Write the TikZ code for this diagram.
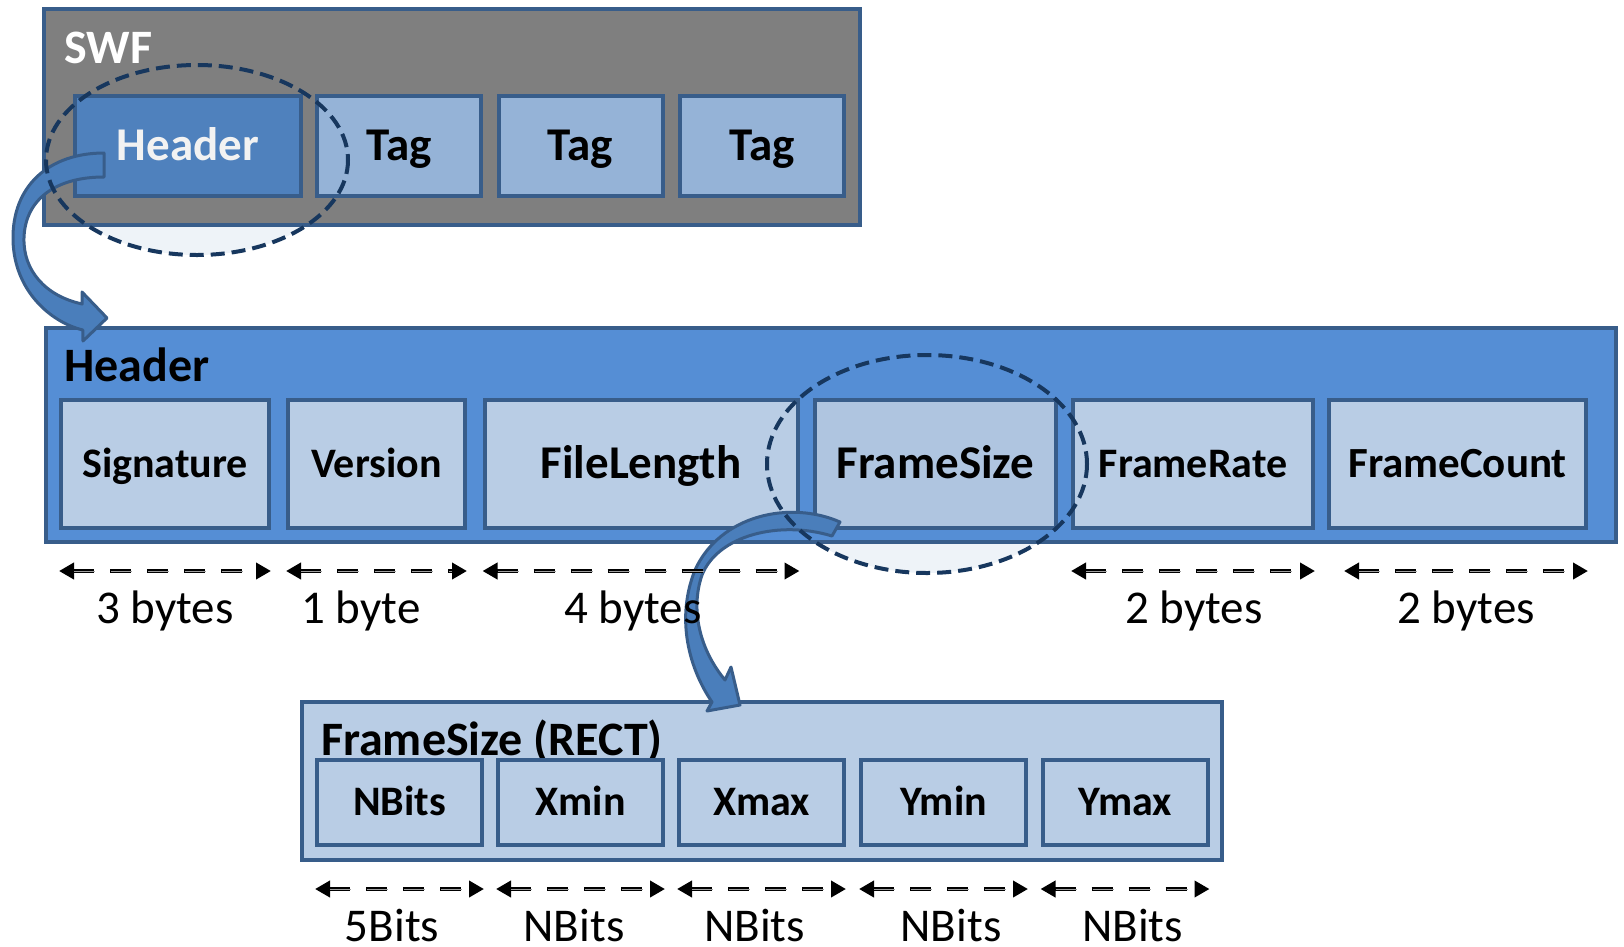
\documentclass[tikz,border=0pt]{standalone}
\usepackage{fontspec}
\setmainfont{Carlito}
\usetikzlibrary{arrows.meta}
\newcommand\myfs[1]{\fontsize{#1}{#1}\selectfont}
\definecolor{bord}{HTML}{385D8A}
\definecolor{swfgray}{HTML}{7F7F7F}
\definecolor{hdrdark}{HTML}{4F81BD}
\definecolor{tagc}{HTML}{95B3D7}
\definecolor{hdrbig}{HTML}{558ED5}
\definecolor{subc}{HTML}{B9CDE5}
\definecolor{fsc}{HTML}{AFC5E0}
\definecolor{ellc}{HTML}{17375E}
\definecolor{ellfill}{HTML}{EEF3F8}
\definecolor{arrfill}{HTML}{4A7EBB}
\begin{document}
\begin{tikzpicture}[x=1pt,y=-1pt,
  cell/.style={draw=bord, line width=4pt, inner sep=0pt},
  tb47/.style={font=\bfseries\myfs{47}, text height=29.7pt, text depth=0pt},
  tb43/.style={font=\bfseries\myfs{43}, text height=27.2pt, text depth=0pt},
  tb42/.style={font=\bfseries\myfs{42}, text height=26.5pt, text depth=0pt},
  lab/.style={font=\myfs{47}, anchor=base, inner sep=0pt},
  title/.style={font=\bfseries\myfs{48}, anchor=base west, inner sep=0pt},
  dim/.style={{Triangle[length=15pt,width=16pt]}-{Triangle[length=15pt,width=16pt]}, line width=4pt, dash pattern=on 21pt off 16pt, black},
  dimc/.style={line width=0.9pt, gray!75, dash pattern=on 21pt off 16pt, shorten <=15pt, shorten >=15pt},
  ell/.style={draw=ellc, line width=4pt, dash pattern=on 14pt off 7pt},
  blockarrow/.style={fill=arrfill, draw=bord, line width=3pt, line join=round}
]
\useasboundingbox (0,0) rectangle (1624,946);
% light fills of the highlight ellipses
\fill[ellfill] (197,160) ellipse [x radius=151, y radius=95];
\fill[ellfill] (927,464) ellipse [x radius=160, y radius=109];
% SWF
\node[cell, fill=swfgray, minimum width=816pt, minimum height=216pt] (swf) at (452,117) {};
\node[title, text=white] (swflab) at (64,63) {SWF};
\node[cell, fill=hdrdark, minimum width=226pt, minimum height=100pt, tb47, text=white!95!black] (swfhdr) at (188,146) {Header};
\node[cell, fill=tagc, minimum width=164pt, minimum height=100pt, tb47] (tag1) at (399,146) {Tag};
\node[cell, fill=tagc, minimum width=164pt, minimum height=100pt, tb47] (tag2) at (580.5,146) {Tag};
\node[cell, fill=tagc, minimum width=164pt, minimum height=100pt, tb47] (tag3) at (762,146) {Tag};
% Header
\node[cell, fill=hdrbig, minimum width=1570pt, minimum height=214pt] (hdr) at (831,435) {};
\node[title] (hdrlab) at (64,381) {Header};
\node[cell, fill=subc, minimum width=208pt, minimum height=128pt, tb42] (sig) at (165,464) {Signature};
\node[cell, fill=subc, minimum width=177pt, minimum height=128pt, tb42] (ver) at (376.5,464) {Version};
\node[cell, fill=subc, minimum width=313pt, minimum height=128pt, tb47] (flen) at (641,464) {FileLength};
\node[cell, fill=fsc, minimum width=241pt, minimum height=128pt, tb47] (fsize) at (935.5,464) {FrameSize};
\node[cell, fill=subc, minimum width=240pt, minimum height=128pt, tb42] (frate) at (1193,464) {FrameRate};
\node[cell, fill=subc, minimum width=257pt, minimum height=128pt, tb43] (fcount) at (1457.5,464) {FrameCount};
% RECT
\node[cell, fill=subc, minimum width=920pt, minimum height=158pt] (rect) at (762,781) {};
\node[title] (rectlab) at (321,755) {FrameSize (RECT)};
\node[cell, fill=subc, minimum width=165pt, minimum height=85pt, tb42] (nb) at (399.5,802.5) {NBits};
\node[cell, fill=subc, minimum width=165pt, minimum height=85pt, tb42] (xmin) at (580.5,802.5) {Xmin};
\node[cell, fill=subc, minimum width=165pt, minimum height=85pt, tb42] (xmax) at (761.5,802.5) {Xmax};
\node[cell, fill=subc, minimum width=165pt, minimum height=85pt, tb42] (ymin) at (943.5,802.5) {Ymin};
\node[cell, fill=subc, minimum width=165pt, minimum height=85pt, tb42] (ymax) at (1125,802.5) {Ymax};
% curved block arrow from FrameSize to RECT (under the size labels)
\draw[blockarrow] (840,522) .. controls (790,500) and (720,515) .. (695,570)
  .. controls (675,620) and (690,670) .. (712,702) -- (707,711) -- (740,705) -- (731,667) -- (725,680)
  .. controls (700,650) and (690,610) .. (702,575) .. controls (718,535) and (780,520) .. (832,536) -- cycle;
% byte sizes
\coordinate (ra) at (0,571);
\foreach \a/\b in {sig.west/sig.east, ver.west/ver.east, flen.west/flen.east, frate.west/frate.east} {
  \draw[dim] (\a |- ra) -- (\b |- ra);
  \draw[dimc] (\a |- ra) -- (\b |- ra);
}
\draw[dim] ([xshift=17pt]fcount.west |- ra) -- (fcount.east |- ra);
\draw[dimc] ([xshift=17pt]fcount.west |- ra) -- (fcount.east |- ra);
\node[lab] (b1) at (165,623) {3 bytes};
\node[lab] (b2) at (361,623) {1 byte};
\node[lab] (b3) at (633,623) {4 bytes};
\node[lab] (b4) at (1194,623) {2 bytes};
\node[lab] (b5) at (1466,623) {2 bytes};
% bit sizes
\coordinate (rb) at (0,889);
\foreach \n in {nb, xmin, xmax, ymin, ymax} {
  \draw[dim] (\n.west |- rb) -- (\n.east |- rb);
  \draw[dimc] (\n.west |- rb) -- (\n.east |- rb);
}
\node[lab] (n1) at (392,941) {5Bits};
\node[lab] (n2) at (574,941) {NBits};
\node[lab] (n3) at (754.5,941) {NBits};
\node[lab] (n4) at (951,941) {NBits};
\node[lab] (n5) at (1132.5,941) {NBits};
% curved block arrow from SWF header to Header
\draw[blockarrow] (104,153) .. controls (50,153) and (12,185) .. (13,240)
  .. controls (14,290) and (50,322) .. (82.8,330) -- (83,341) -- (107,318) -- (82,292) -- (82.2,304)
  .. controls (45,296) and (23,270) .. (24,238) .. controls (25,200) and (55,177) .. (104,177) -- cycle;
% dashed highlight ellipses
\draw[ell] (197,160) ellipse [x radius=151, y radius=95];
\draw[ell] (927,464) ellipse [x radius=160, y radius=109];
\end{tikzpicture}
\end{document}
